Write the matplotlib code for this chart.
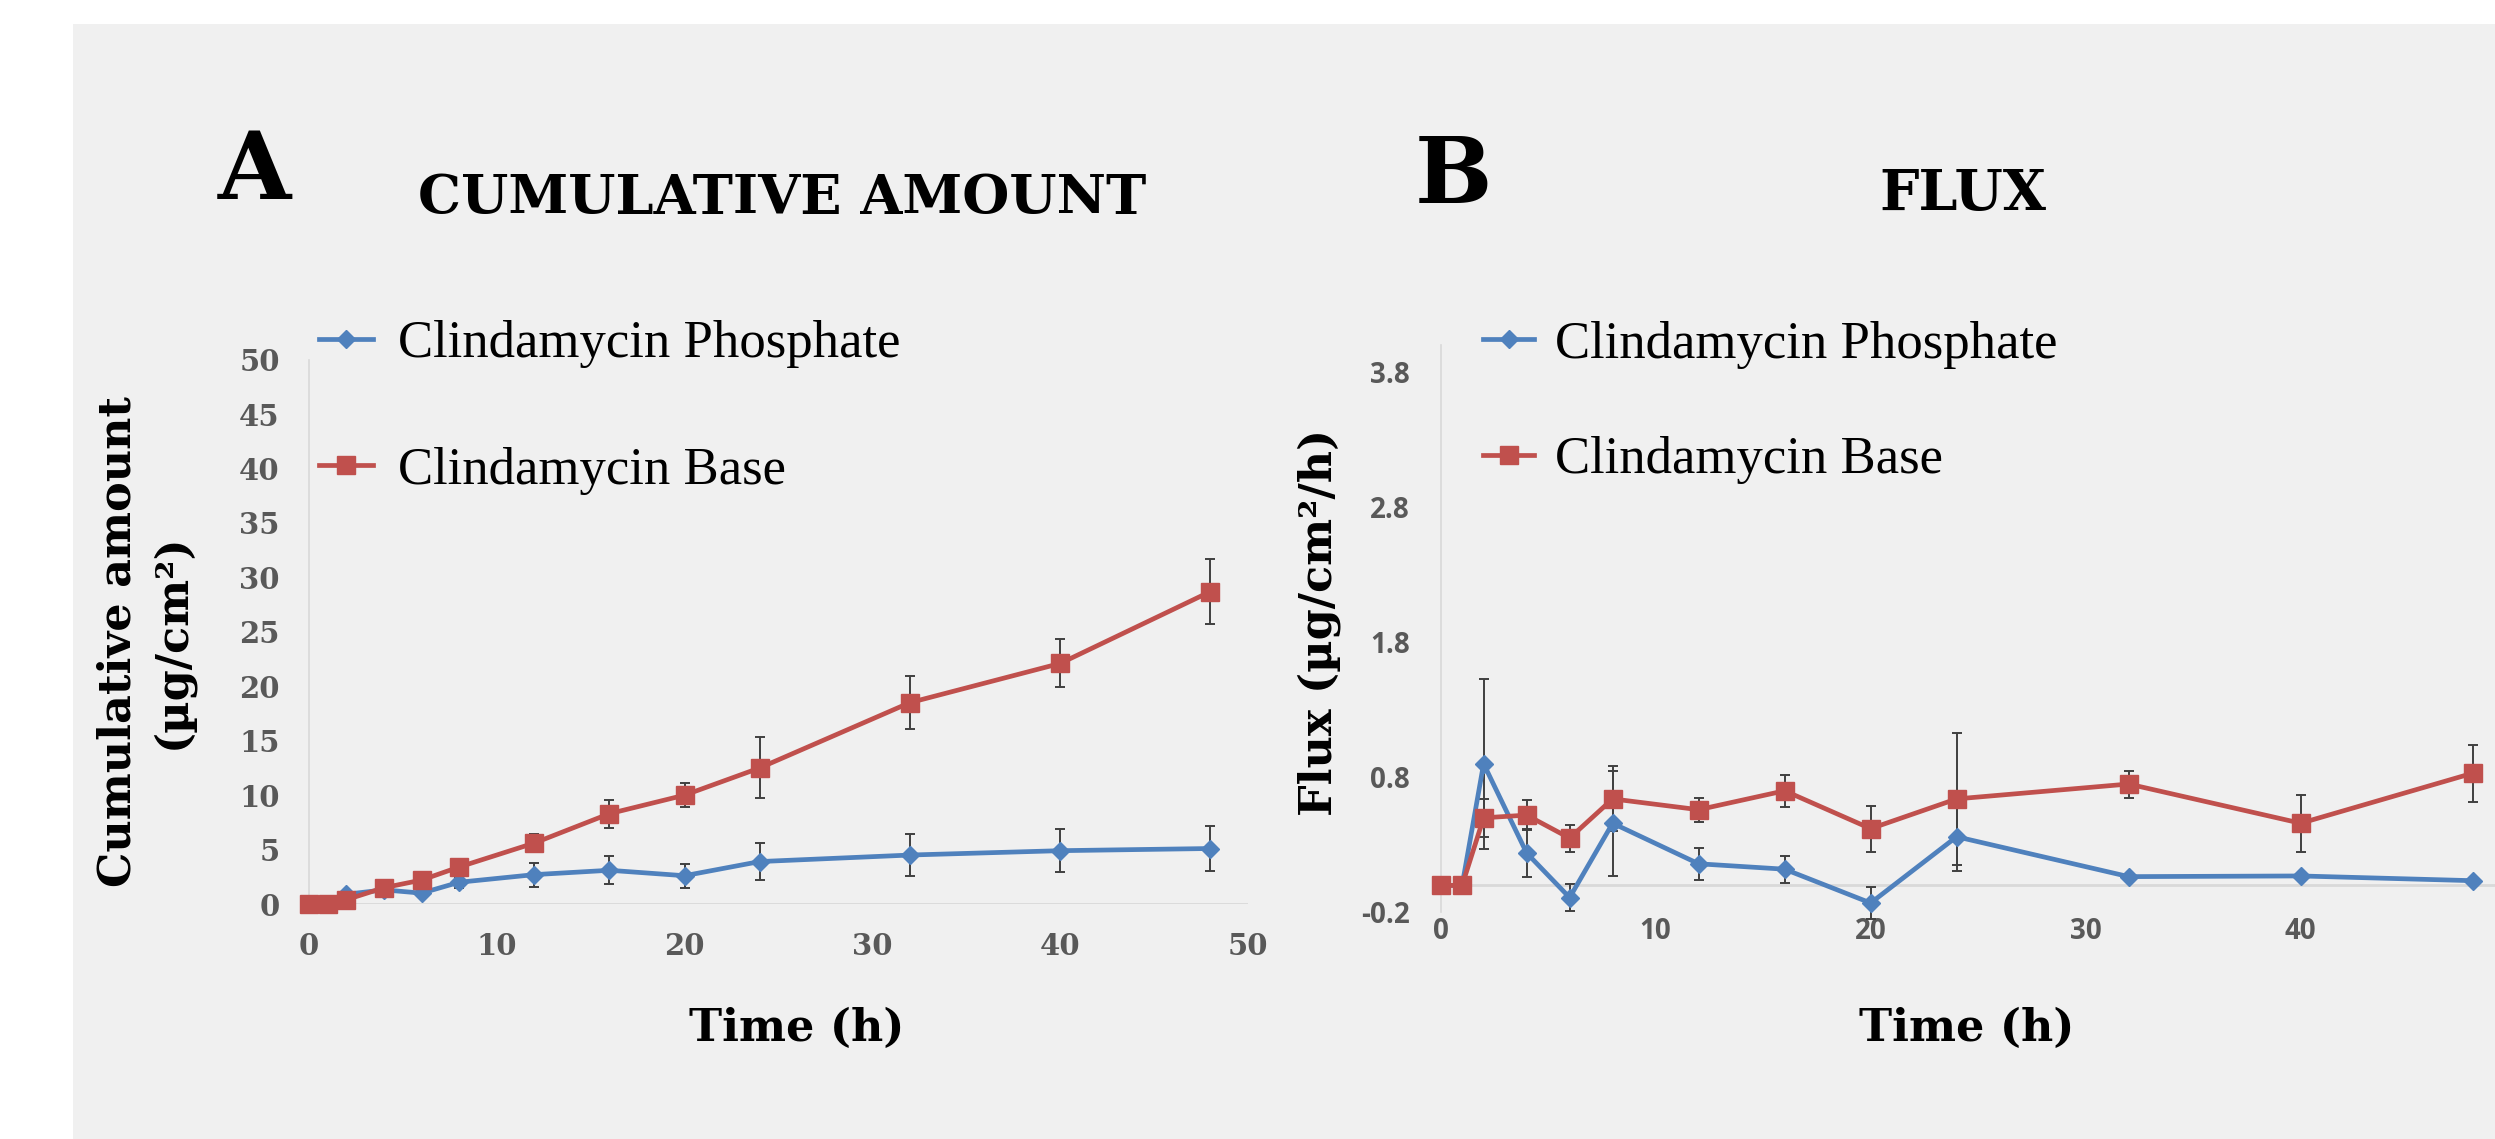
import numpy as np
import matplotlib.pyplot as plt
from matplotlib.patches import Rectangle

# sampling times (h)
time_h = [0, 1, 2, 4, 6, 8, 12, 16, 20, 24, 32, 40, 48]

# panel A - cumulative amount (ug/cm2)
cum_phosphate = [0, 0, 0.9, 1.3, 1.0, 2.0, 2.7, 3.1, 2.6, 3.9, 4.5, 4.9, 5.1]
cum_phosphate_err = [0, 0, 0.2, 0.3, 0.3, 0.5, 1.1, 1.3, 1.1, 1.7, 1.9, 2.0, 2.1]
cum_base = [0, 0, 0.4, 1.5, 2.2, 3.4, 5.6, 8.3, 10.0, 12.5, 18.5, 22.1, 28.7]
cum_base_err = [0, 0, 0.2, 0.3, 0.3, 0.4, 0.8, 1.3, 1.1, 2.8, 2.4, 2.2, 3.0]

# panel B - flux (ug/cm2/h)
flux_phosphate = [0, 0, 0.9, 0.24, -0.09, 0.46, 0.16, 0.12, -0.13, 0.36, 0.065, 0.07, 0.035]
flux_phosphate_err = [0, 0, 0.63, 0.18, 0.1, 0.39, 0.12, 0.1, 0.12, 0.25, 0.02, 0.02, 0.02]
flux_base = [0, 0, 0.5, 0.52, 0.35, 0.64, 0.56, 0.70, 0.42, 0.64, 0.75, 0.46, 0.83]
flux_base_err = [0, 0, 0.14, 0.11, 0.1, 0.24, 0.09, 0.12, 0.17, 0.49, 0.1, 0.21, 0.21]

series_names = ['Clindamycin Phosphate', 'Clindamycin Base']
a_xticks = [0, 10, 20, 30, 40, 50]
a_yticks = [0, 5, 10, 15, 20, 25, 30, 35, 40, 45, 50]
b_xticks = [0, 10, 20, 30, 40]
b_yticks = [-0.2, 0.8, 1.8, 2.8, 3.8]

BLUE = '#4f81bd'
RED = '#c0504d'
ERR = '#404040'
AXIS = '#d9d9d9'
TICK = '#595959'

fig = plt.figure(figsize=(24.95, 11.39), dpi=100)
fig.patch.set_facecolor('white')
fig.patches.append(Rectangle((0.0293, 0), 1, 0.979, transform=fig.transFigure,
                             facecolor='#f0f0f0', edgecolor='none', zorder=-10))


def draw_series(ax, y1, e1, y2, e2):
    ax.errorbar(time_h, y1, yerr=e1, fmt='none', ecolor=ERR, elinewidth=1.4,
                capsize=3.6, capthick=1.4, zorder=2, clip_on=False)
    ax.errorbar(time_h, y2, yerr=e2, fmt='none', ecolor=ERR, elinewidth=1.4,
                capsize=3.6, capthick=1.4, zorder=2, clip_on=False)
    l1, = ax.plot(time_h, y1, color=BLUE, lw=3.4, marker='D', ms=9,
                  label=series_names[0], zorder=3, clip_on=False)
    l2, = ax.plot(time_h, y2, color=RED, lw=3.4, marker='s', ms=13,
                  label=series_names[1], zorder=4, clip_on=False)
    return [l1, l2]


def style_axes(ax):
    ax.set_facecolor('none')
    for s in ['top', 'right', 'bottom']:
        ax.spines[s].set_visible(False)
    ax.spines['left'].set_color(AXIS)
    ax.spines['left'].set_linewidth(1.2)
    ax.axhline(0, color=AXIS, lw=2, zorder=1)
    ax.tick_params(length=0)


# ---- panel A
axA = fig.add_axes([0.1238, 0.2063, 0.3764, 0.4779])
style_axes(axA)
hA = draw_series(axA, cum_phosphate, cum_phosphate_err, cum_base, cum_base_err)
axA.set_xlim(0, 50)
axA.set_ylim(0, 50)
axA.set_xticks(a_xticks, [str(v) for v in a_xticks], family='DejaVu Serif',
               fontweight='bold', fontsize=21, color=TICK)
axA.set_yticks(a_yticks, [str(v) for v in a_yticks], family='DejaVu Serif',
               fontweight='bold', fontsize=21, color=TICK)
axA.tick_params(axis='x', pad=20)
axA.tick_params(axis='y', pad=21)
axA.legend(handles=hA, loc='upper left', bbox_to_anchor=(0.1279, 0.719),
           bbox_transform=fig.transFigure, frameon=False, borderpad=0, borderaxespad=0,
           prop={'family': 'Liberation Serif', 'size': 38}, handlelength=1.03,
           handletextpad=0.47, labelspacing=1.49, numpoints=1)

# ---- panel B
axB = fig.add_axes([0.5774, 0.1989, 0.4309, 0.4985])
style_axes(axB)
hB = draw_series(axB, flux_phosphate, flux_phosphate_err, flux_base, flux_base_err)
axB.set_xlim(0, 50)
axB.set_ylim(-0.2, 4.0)
axB.set_xticks(b_xticks, [str(v) for v in b_xticks], family='Open Sans',
               fontweight='bold', fontsize=20, color=TICK)
axB.set_yticks(b_yticks, ['%.1f' % v for v in b_yticks], family='Open Sans',
               fontweight='bold', fontsize=20, color=TICK)
axB.tick_params(axis='x', pad=3)
axB.tick_params(axis='y', pad=22)
axB.legend(handles=hB, loc='upper left', bbox_to_anchor=(0.5945, 0.7185),
           bbox_transform=fig.transFigure, frameon=False, borderpad=0, borderaxespad=0,
           prop={'family': 'Liberation Serif', 'size': 38}, handlelength=0.97,
           handletextpad=0.38, labelspacing=1.28, numpoints=1)

# ---- texts
serif = 'DejaVu Serif'
fig.text(0.102, 0.848, 'A', fontsize=68, fontweight='bold', family=serif, ha='center', va='center')
fig.text(0.5827, 0.844, 'B', fontsize=66, fontweight='bold', family=serif, ha='center', va='center')
fig.text(0.3136, 0.8254, 'CUMULATIVE AMOUNT', fontsize=39, fontweight='bold', family=serif,
         ha='center', va='center')
fig.text(0.7868, 0.8296, 'FLUX', fontsize=40, fontweight='bold', family=serif,
         ha='center', va='center')
fig.text(0.0581, 0.4372, 'Cumulative amount\n(µg/cm²)', rotation=90, fontsize=32,
         fontweight='heavy', family=serif, ha='center', va='center', multialignment='center',
         linespacing=1.3)
fig.text(0.5289, 0.4539, 'Flux (µg/cm²/h)', rotation=90, fontsize=32, fontweight='heavy',
         family=serif, ha='center', va='center')
fig.text(0.3195, 0.0966, 'Time (h)', fontsize=32, fontweight='bold', family=serif,
         ha='center', va='center')
fig.text(0.7882, 0.0966, 'Time (h)', fontsize=32, fontweight='bold', family=serif,
         ha='center', va='center')

fig.savefig('out.png', dpi=100, facecolor=fig.get_facecolor())
